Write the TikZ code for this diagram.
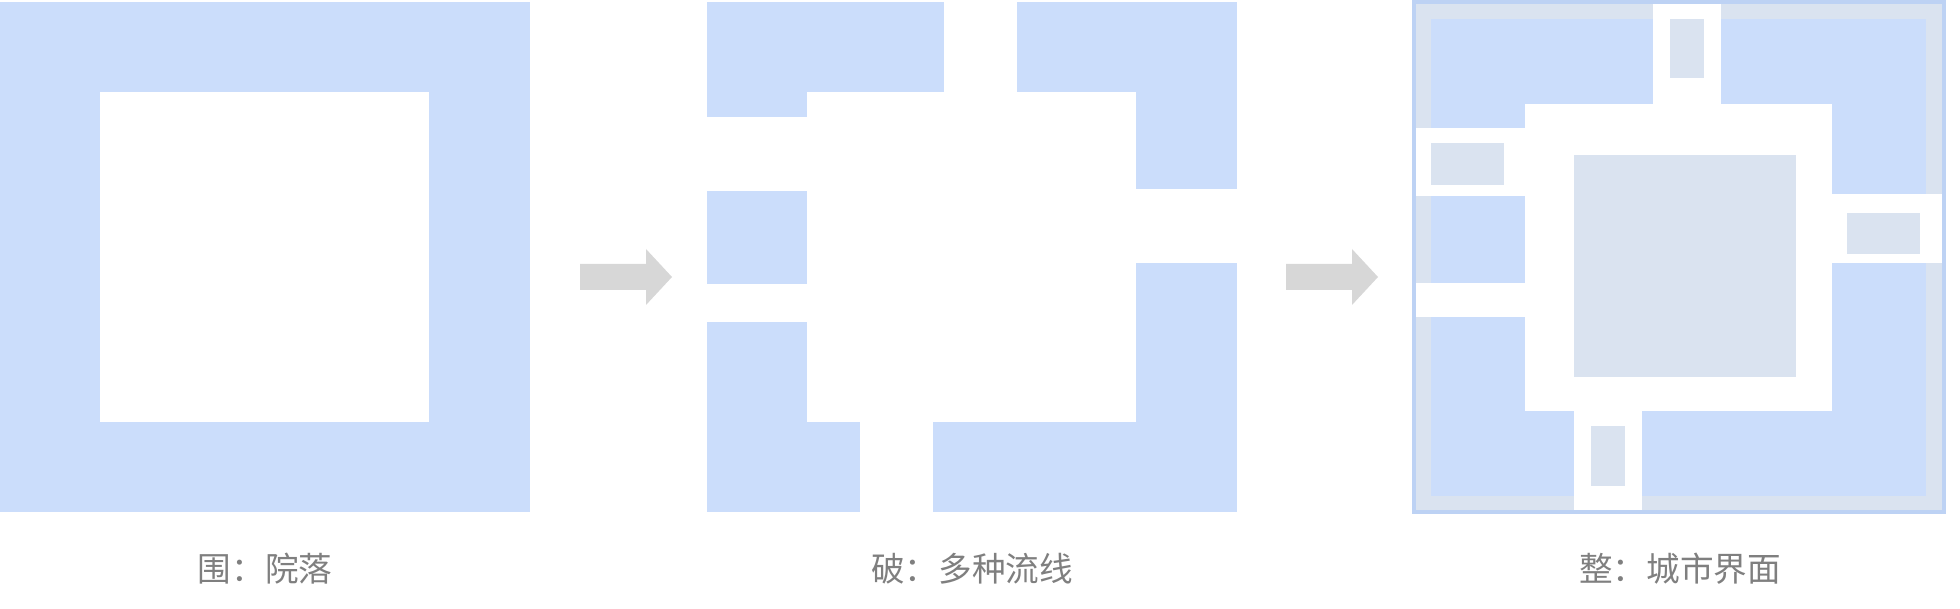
\documentclass[tikz,border=0pt]{standalone}
\usepackage{fontspec}
\newfontfamily\cjk{Noto Sans CJK SC}
\usetikzlibrary{positioning}
\definecolor{bleu}{HTML}{CBDDFB}
\definecolor{grisbleu}{HTML}{DAE3F0}
\definecolor{bord}{HTML}{BDD2F4}
\definecolor{fleche}{HTML}{D7D7D7}
\definecolor{texte}{HTML}{7F7F7F}
\tikzset{
  bloc/.style={fill=bleu},
  vide/.style={fill=white},
  gris/.style={fill=grisbleu},
  legende/.style={font=\cjk\fontsize{16.8pt}{16.8pt}\selectfont, text=texte, inner sep=0pt}
}

\begin{document}
\begin{tikzpicture}[x=0.5pt, y=-0.5pt]
            \useasboundingbox (0,0) rectangle (1960,609);

            % Wei : cour fermee
            \fill[bloc] (0,2) rectangle (530,512);
            \fill[vide] (100,92.5) rectangle (429,421.7);
            \node[legende] (titreA) at (265,569) {围：院落};

            \fill[fleche] (580,264) -- (646,264) -- (646,249) -- (672,277)
                -- (646,305) -- (646,290) -- (580,290) -- cycle;

            % Po : flux multiples
            \begin{scope}[shift={(707,0)}]
                \fill[bloc] (0,2) rectangle (530,512);
                \fill[vide] (100,92.5) rectangle (429,421.7);
                \fill[vide] (236.5,0) rectangle (310,93);
                \fill[vide] (-1,117.3) rectangle (101,191);
                \fill[vide] (-1,284.5) rectangle (101,321.8);
                \fill[vide] (428,189.3) rectangle (531,263.3);
                \fill[vide] (152.7,421) rectangle (226.4,513);
            \end{scope}
            \node[legende] (titreB) at (972,569) {破：多种流线};

            \fill[fleche] (1286,264) -- (1352,264) -- (1352,249) -- (1378,277)
                -- (1352,305) -- (1352,290) -- (1286,290) -- cycle;

            % Zheng : interface urbaine
            \fill[gris] (1414,2) rectangle (1944,512);
            \fill[bloc] (1431,19) rectangle (1926,495.7);
            \fill[vide] (1525,104) rectangle (1832,411);
            \fill[vide] (1652.7,2) rectangle (1720.7,104);
            \fill[vide] (1414,127.7) rectangle (1525,196);
            \fill[vide] (1414,282.7) rectangle (1525,316.7);
            \fill[vide] (1832,194.3) rectangle (1944,263.3);
            \fill[vide] (1574,411) rectangle (1642,512);
            \fill[gris] (1574,155) rectangle (1795.7,376.7);
            \fill[gris] (1670,19) rectangle (1704,77.7);
            \fill[gris] (1431,143.3) rectangle (1504,184.7);
            \fill[gris] (1847,212.7) rectangle (1920,254);
            \fill[gris] (1591,426) rectangle (1625,485.7);
            \draw[bord, line width=1.6pt] (1414,2) rectangle (1944,512);
            \node[legende] (titreC) at (1680,569) {整：城市界面};
        \end{tikzpicture}
\end{document}
